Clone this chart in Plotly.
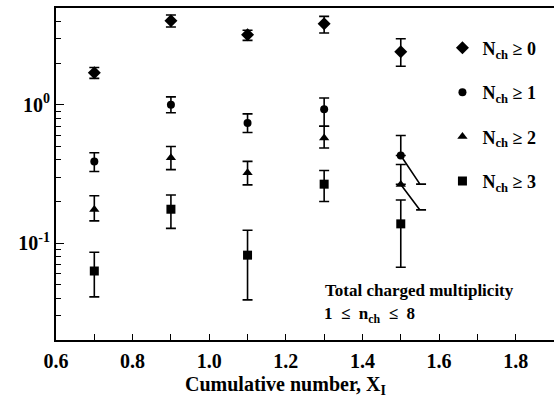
import plotly.graph_objects as go

# ---- data ----
x_vals = [0.7, 0.9, 1.1, 1.3, 1.5]

n0_y = [1.70, 4.05, 3.20, 3.85, 2.42]
n0_up = [1.86, 4.45, 3.45, 4.35, 3.00]
n0_lo = [1.55, 3.65, 2.92, 3.30, 1.90]

n1_y = [0.39, 1.00, 0.74, 0.93, 0.43]
n1_up = [0.45, 1.14, 0.86, 1.12, 0.60]
n1_lo = [0.33, 0.875, 0.63, 0.70, 0.43]

n2_y = [0.175, 0.414, 0.323, 0.575, 0.266]
n2_up = [0.22, 0.50, 0.39, 0.70, 0.37]
n2_lo = [0.145, 0.34, 0.264, 0.487, 0.266]

n3_y = [0.063, 0.176, 0.082, 0.267, 0.138]
n3_up = [0.086, 0.223, 0.124, 0.335, 0.205]
n3_lo = [0.041, 0.128, 0.039, 0.20, 0.067]

# skewed lower error bars at X=1.5 (as drawn in the original)
skew1_x = [1.5, 1.55, 1.54, 1.566]
skew1_y = [0.43, 0.267, 0.267, 0.267]
skew2_x = [1.5, 1.55, 1.54, 1.566]
skew2_y = [0.266, 0.174, 0.174, 0.174]

labels = ["N<sub>ch</sub> \u2265 0", "N<sub>ch</sub> \u2265 1",
          "N<sub>ch</sub> \u2265 2", "N<sub>ch</sub> \u2265 3"]
symbols = ["diamond", "circle", "triangle-up", "square"]
sizes = [10, 8, 9, 9]

x_tickvals = [0.6, 0.8, 1.0, 1.2, 1.4, 1.6, 1.8]
x_ticktext = ["0.6", "0.8", "1.0", "1.2", "1.4", "1.6", "1.8"]
y_tickvals = [0.1, 1.0]
y_ticktext = ["10<sup>-1</sup>", "10<sup>0</sup>"]
y_minorvals = [0.03, 0.04, 0.05, 0.06, 0.07, 0.08, 0.09,
               0.2, 0.3, 0.4, 0.5, 0.6, 0.7, 0.8, 0.9, 2, 3, 4, 5]

FONT = "Times New Roman, Liberation Serif, serif"
BLACK = "black"

fig = go.Figure()
series = [(n0_y, n0_up, n0_lo), (n1_y, n1_up, n1_lo),
          (n2_y, n2_up, n2_lo), (n3_y, n3_up, n3_lo)]
for i, (y, up, lo) in enumerate(series):
    fig.add_trace(go.Scatter(
        x=x_vals, y=y, mode="markers", name=labels[i],
        legendgroup=f"g{i}",
        marker=dict(symbol=symbols[i], size=sizes[i], color=BLACK),
        error_y=dict(type="data", symmetric=False,
                     array=[u - v for u, v in zip(up, y)],
                     arrayminus=[v - l for v, l in zip(y, lo)],
                     color=BLACK, thickness=1.6, width=5),
    ))

for sx, sy in [(skew1_x, skew1_y), (skew2_x, skew2_y)]:
    fig.add_trace(go.Scatter(x=sx, y=sy, mode="lines", showlegend=False,
                             line=dict(color=BLACK, width=1.6)))

fig.add_annotation(x=1.2, y=-0.138, xref="x", yref="paper",
                   text="Cumulative number, X<sub>I</sub>", showarrow=False,
                   font=dict(family=FONT, size=20, color=BLACK, weight="bold"),
                   xanchor="center", yanchor="middle")
fig.add_annotation(x=1.55, y=0.15, xref="x", yref="paper",
                   text="Total charged multiplicity", showarrow=False,
                   font=dict(family=FONT, size=17, color=BLACK, weight="bold"),
                   xanchor="center", yanchor="middle")
fig.add_annotation(x=1.295, y=0.075, xref="x", yref="paper",
                   text="1 \u00a0\u2264\u00a0 n<sub>ch</sub> \u00a0\u2264\u00a0 8", showarrow=False,
                   font=dict(family=FONT, size=17, color=BLACK, weight="bold"),
                   xanchor="left", yanchor="middle")

fig.update_layout(
    width=554, height=397,
    margin=dict(l=56, r=0, t=8, b=57),
    paper_bgcolor="white", plot_bgcolor="white",
    font=dict(family=FONT, size=18, color=BLACK, weight="bold"),
    showlegend=True,
    legend=dict(x=0.776, y=0.935, xanchor="left", yanchor="top",
                bgcolor="rgba(0,0,0,0)", tracegroupgap=18,
                font=dict(family=FONT, size=18, color=BLACK, weight="bold"),
                itemsizing="trace"),
    xaxis=dict(range=[0.6, 1.9], showgrid=False, zeroline=False,
               showline=True, linecolor=BLACK, linewidth=2, mirror=True,
               ticks="inside", ticklen=6, tickwidth=1.2, tickcolor=BLACK,
               tickvals=x_tickvals, ticktext=x_ticktext, ticklabelstandoff=2,
               minor=dict(ticks="inside", dtick=0.1, ticklen=6, tickwidth=1.2,
                          tickcolor=BLACK, showgrid=False),
               tickfont=dict(family=FONT, size=20, color=BLACK, weight="bold")),
    yaxis=dict(type="log", range=[-1.699, 0.699], showgrid=False, zeroline=False,
               showline=True, linecolor=BLACK, linewidth=2,
               ticks="inside", ticklen=8, tickwidth=1.2, tickcolor=BLACK,
               tickvals=y_tickvals, ticktext=y_ticktext,
               minor=dict(ticks="inside", ticklen=5, tickwidth=1.2,
                          tickvals=y_minorvals,
                          tickcolor=BLACK, showgrid=False),
               tickfont=dict(family=FONT, size=20, color=BLACK, weight="bold")),
)

fig.write_html("out.html")
